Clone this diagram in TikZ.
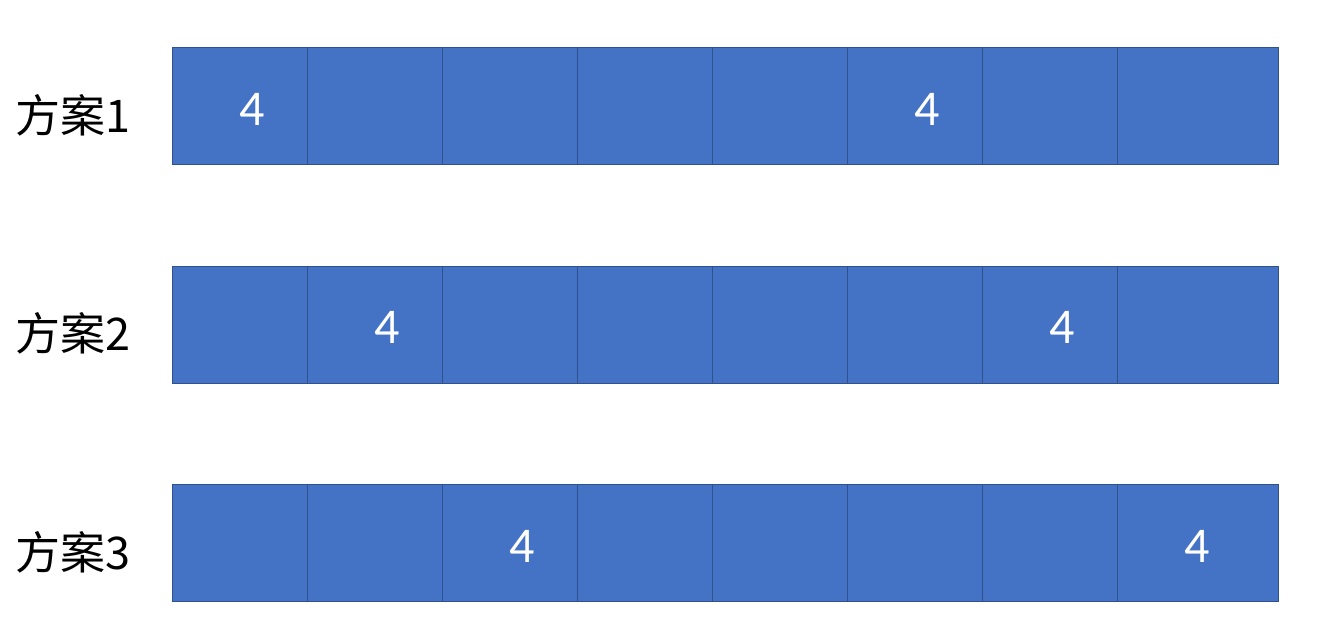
\documentclass[tikz,border=0pt]{standalone}
\usepackage{fontspec}
\setmainfont{Carlito}
\newfontfamily\cjk{Noto Sans CJK SC}
\definecolor{cellfill}{HTML}{4472C4}
\definecolor{cellline}{HTML}{2F528F}
\begin{document}
\begin{tikzpicture}[x=1pt,y=-1pt,
  cellbox/.style={draw=cellline,fill=cellfill,line width=1.2pt,inner sep=0pt,anchor=north west,minimum height=117pt},
  digit/.style={text=white,font=\fontsize{50}{60}\selectfont,anchor=base,inner sep=0pt},
  rowlabel/.style={font=\cjk\fontsize{45}{54}\selectfont,anchor=base west,inner sep=0pt,text=black}]
\useasboundingbox (0,0) rectangle (1324,640);
\foreach \r/\top in {1/47,2/265.5,3/484}{
  \foreach \c/\x/\w in {1/172/135,2/307/135,3/442/135,4/577/135,5/712/135,6/847/135,7/982/135,8/1117/161}{
    \node[cellbox,minimum width=\w pt] (r\r c\c) at (\x,\top) {};
  }
  \node[rowlabel] (lab\r) at (15,\top+85) {方案\r};
}
\node[digit] (d11) at (252,125) {4};
\node[digit] (d16) at (927,125) {4};
\node[digit] (d22) at (387,343.5) {4};
\node[digit] (d27) at (1062,343.5) {4};
\node[digit] (d33) at (522,562) {4};
\node[digit] (d38) at (1197,562) {4};
\end{tikzpicture}
\end{document}
